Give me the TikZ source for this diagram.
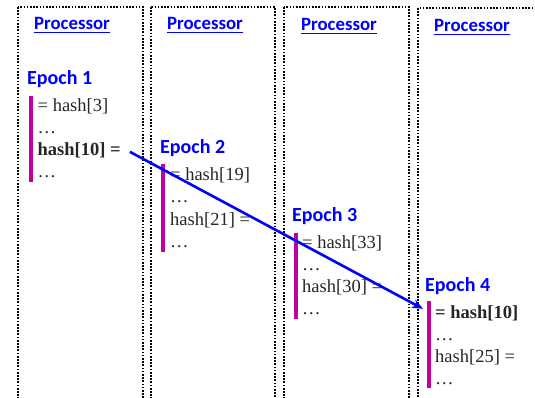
\documentclass[tikz,border=0pt]{standalone}
\usepackage{fontspec}
\setmainfont{Liberation Serif}
\newfontfamily\calib{Carlito}
\usetikzlibrary{arrows.meta}
\definecolor{mag}{RGB}{192,0,160}
\definecolor{pblue}{RGB}{0,0,255}
\tikzset{
  colbox/.style={draw=black, line width=1.7pt, dash pattern=on 1.7pt off 1.5pt},
  proc/.style={anchor=base, inner sep=0pt, text=pblue, font=\calib\bfseries\fontsize{18.8}{22}\selectfont},
  uline/.style={draw=pblue, line width=1.4pt},
  epoch/.style={anchor=base west, inner sep=0pt, text=pblue, font=\calib\bfseries\fontsize{20}{24}\selectfont},
  hl/.style={anchor=base west, inner sep=0pt, font=\fontsize{18.5}{22}\selectfont, text=black!85},
  ebar/.style={draw=mag, line width=4pt},
  link/.style={draw=pblue, line width=2.6pt, -{Stealth[length=11pt,width=9pt]}}
}
\begin{document}
\begin{tikzpicture}[x=1pt,y=-1pt]
\useasboundingbox (0,0) rectangle (535,398);
\clip (0,0) rectangle (535,398);
% columns
\draw[colbox] (18,7) rectangle (143,420);
\draw[colbox] (151,7) rectangle (275,420);
\draw[colbox] (284,7) rectangle (409,420);
\draw[colbox] (418,8) rectangle (550,420);
% processor labels
\node[proc] (p1) at (72,30) {Processor};
\node[proc] (p2) at (205,30) {Processor};
\node[proc] (p3) at (339,31) {Processor};
\node[proc] (p4) at (472,32) {Processor};
\foreach \p in {p1,p2,p3,p4}
  \draw[uline] ([yshift=-2.3pt]\p.base west) -- ([yshift=-2.3pt]\p.base east);
% epoch 1
\node[epoch] (e1) at (27,85) {Epoch 1};
\coordinate (b1t) at (31,96); \coordinate (b1b) at (31,182);
\draw[ebar] (b1t) -- (b1b);
\node[hl] (a1) at (37.5,112) {= hash[3]};
\node[hl] (a2) at (37.5,134) {…};
\node[hl] (a3) at (37.5,156) {\textbf{hash[10] =}};
\node[hl] (a4) at (37.5,178) {…};
% epoch 2
\node[epoch] (e2) at (160,154) {Epoch 2};
\coordinate (b2t) at (163,164); \coordinate (b2b) at (163,252);
\draw[ebar] (b2t) -- (b2b);
\node[hl] (c1) at (170,181) {= hash[19]};
\node[hl] (c2) at (170,203) {…};
\node[hl] (c3) at (170,225) {hash[21] =};
\node[hl] (c4) at (170,247) {…};
% epoch 3
\node[epoch] (e3) at (292,222) {Epoch 3};
\coordinate (b3t) at (296,233); \coordinate (b3b) at (296,319);
\draw[ebar] (b3t) -- (b3b);
\node[hl] (d1) at (302,248) {= hash[33]};
\node[hl] (d2) at (302,270) {…};
\node[hl] (d3) at (302,292) {hash[30] =};
\node[hl] (d4) at (302,314) {…};
% epoch 4
\node[epoch] (e4) at (425,291) {Epoch 4};
\coordinate (b4t) at (429,301); \coordinate (b4b) at (429,388);
\draw[ebar] (b4t) -- (b4b);
\node[hl] (f1) at (435,318) {\textbf{= hash[10]}};
\node[hl] (f2) at (435,340) {…};
\node[hl] (f3) at (435,362) {hash[25] =};
\node[hl] (f4) at (435,384) {…};
% arrow
\draw[link] ([xshift=9pt,yshift=-1pt]a3.east) -- ([xshift=-12pt,yshift=4pt]f1.west);
\end{tikzpicture}
\end{document}
